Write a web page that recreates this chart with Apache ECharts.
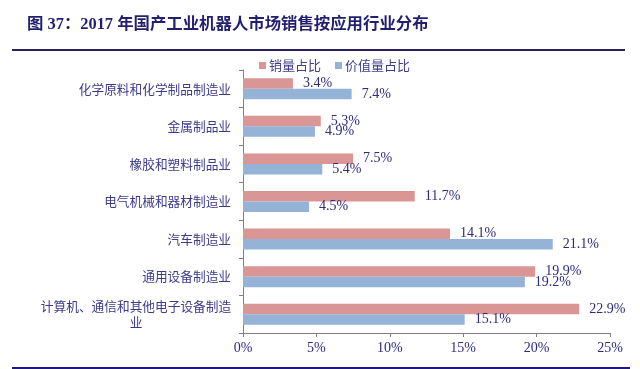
<!DOCTYPE html>
<html>
<head>
<meta charset="utf-8">
<script src="https://cdn.jsdelivr.net/npm/echarts@6/dist/echarts.min.js"></script>
<style>
html,body{margin:0;padding:0;background:#fff;}
#c{width:640px;height:369px;}
</style>
</head>
<body>
<div id="c"></div>
<script>
const titleText = '图 37：2017 年国产工业机器人市场销售按应用行业分布';
const categories = ['化学原料和化学制品制造业','金属制品业','橡胶和塑料制品业','电气机械和器材制造业','汽车制造业','通用设备制造业','计算机、通信和其他电子设备制造业'];
const seriesNames = ['销量占比','价值量占比'];
const salesShare = [3.4, 5.3, 7.5, 11.7, 14.1, 19.9, 22.9];
const valueShare = [7.4, 4.9, 5.4, 4.5, 21.1, 19.2, 15.1];
const xTicks = [0, 5, 10, 15, 20, 25];

const navy = '#2d2a80';
const serif = '"Liberation Serif","Times New Roman","Noto Sans CJK SC",serif';
const cjk = '"Noto Sans CJK SC","Liberation Serif",sans-serif';

const chart = echarts.init(document.getElementById('c'), null, {renderer:'canvas'});
const labelCfg = {
  show: true, position: 'right', distance: 10,
  formatter: p => p.value.toFixed(1) + '%',
  fontFamily: serif, fontSize: 14, color: navy
};
chart.setOption({
  animation: false,
  title: {
    text: titleText, left: 22, top: 12,
    textStyle: {fontFamily: '"Liberation Serif","Noto Sans CJK SC",serif', fontSize: 16.4, fontWeight: 'bold', color: '#221f6e'}
  },
  legend: {
    data: seriesNames, left: 254, top: 54,
    icon: 'rect', itemWidth: 7, itemHeight: 7, itemGap: 14,
    textStyle: {fontFamily: cjk, fontSize: 13, color: '#3f3d8a', padding: [0,0,0,-2]}
  },
  grid: {left: 243, right: 30, top: 70, bottom: 36},
  xAxis: {
    type: 'value', min: xTicks[0], max: xTicks[xTicks.length-1], interval: 5,
    splitLine: {show: false},
    axisLine: {show: true, lineStyle: {color: '#7f7f7f'}},
    axisTick: {show: true, length: 4, lineStyle: {color: '#7f7f7f'}},
    axisLabel: {formatter: '{value}%', fontFamily: serif, fontSize: 14, color: navy, margin: 8}
  },
  yAxis: {
    type: 'category', data: categories, inverse: true,
    axisLine: {show: true, lineStyle: {color: '#7f7f7f'}},
    axisTick: {show: true, length: 4, lineStyle: {color: '#7f7f7f'}},
    axisLabel: {
      margin: 12, fontFamily: cjk, fontSize: 12.7, color: '#3b3a8a',
      formatter: v => v.length > 14 ? '{c|' + v.slice(0,15) + '}\n{c|' + v.slice(15) + '}' : v,
      rich: {c: {width: 190, align: 'center', fontFamily: cjk, fontSize: 12.7, color: '#3b3a8a', lineHeight: 16}}
    }
  },
  series: [
    {name: seriesNames[0], type: 'bar', data: salesShare, barWidth: 10.5, barGap: '0%',
     itemStyle: {color: '#d99694'}, label: labelCfg},
    {name: seriesNames[1], type: 'bar', data: valueShare, barWidth: 10.5, barGap: '0%',
     itemStyle: {color: '#95b3d7'}, label: labelCfg}
  ],
  graphic: [
    {type: 'line', shape: {x1: 12, y1: 50, x2: 625, y2: 50}, style: {stroke: '#2a2262', lineWidth: 2}},
    {type: 'line', shape: {x1: 12, y1: 368, x2: 630, y2: 368}, style: {stroke: '#1c1a80', lineWidth: 2}}
  ]
});
</script>
</body>
</html>
